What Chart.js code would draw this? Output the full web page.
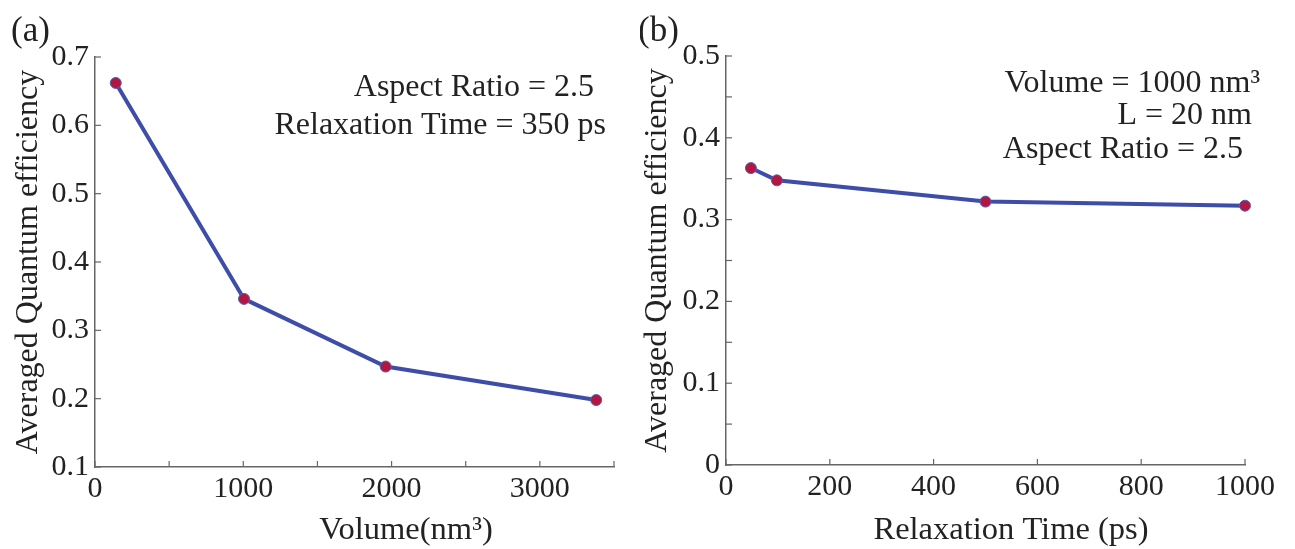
<!DOCTYPE html>
<html>
<head>
<meta charset="utf-8">
<script src="https://cdn.jsdelivr.net/npm/chart.js@4.4.0/dist/chart.umd.min.js"></script>
<style>
  html, body { margin: 0; padding: 0; background: #fff; }
  #wrap { position: relative; width: 1295px; height: 549px; }
  .panel { position: absolute; top: 0; height: 549px; }
  #panelA { left: 0; width: 640px; }
  #panelB { left: 640px; width: 655px; }
</style>
</head>
<body>
<div id="wrap">
  <div class="panel" id="panelA"><canvas id="chartA"></canvas></div>
  <div class="panel" id="panelB"><canvas id="chartB"></canvas></div>
</div>
<script>
// panel (a): efficiency vs volume
const volumeX = [140, 1005, 1960, 3380];
const volumeQE = [0.662, 0.346, 0.247, 0.198];
// panel (b): efficiency vs relaxation time
const relaxX = [48, 98, 500, 1000];
const relaxQE = [0.363, 0.348, 0.322, 0.317];

const yTitle = 'Averaged Quantum efficiency';
const xTitleA = 'Volume(nm³)';
const xTitleB = 'Relaxation Time (ps)';
const notesA = ['Aspect Ratio = 2.5', 'Relaxation Time = 350 ps'];
const notesB = ['Volume = 1000 nm³', 'L = 20 nm', 'Aspect Ratio = 2.5'];

const FONT = '"Liberation Serif", "Times New Roman", serif';
const TEXT = '#222';
const AXIS = '#666';
const LINE = '#3D4DA8';
const DOT = '#B3163E';

// tick marks point inwards, like the original figure
const innerTicks = {
    id: 'innerTicks',
    afterDraw(chart) {
        const ctx = chart.ctx;
        const area = chart.chartArea;
        ctx.save();
        ctx.strokeStyle = AXIS;
        ctx.lineWidth = 1.2;
        const sx = chart.scales.x, sy = chart.scales.y;
        sx.ticks.forEach(t => {
            const px = sx.getPixelForValue(t.value);
            ctx.beginPath();
            ctx.moveTo(px, area.bottom);
            ctx.lineTo(px, area.bottom - 6);
            ctx.stroke();
        });
        sy.ticks.forEach(t => {
            const py = sy.getPixelForValue(t.value);
            ctx.beginPath();
            ctx.moveTo(area.left, py);
            ctx.lineTo(area.left + 6, py);
            ctx.stroke();
        });
        ctx.restore();
    }
};

// free text: panel letter, notes, x-axis title
const textLayer = {
    id: 'textLayer',
    afterDraw(chart, args, opts) {
        const ctx = chart.ctx;
        ctx.save();
        ctx.fillStyle = TEXT;
        ctx.textBaseline = 'middle';
        ctx.font = '35px ' + FONT;
        ctx.textAlign = 'left';
        ctx.fillText(opts.letter, opts.letterX, 32);
        ctx.font = '32px ' + FONT;
        ctx.textAlign = 'right';
        opts.notes.forEach((n, i) => ctx.fillText(n, opts.noteX[i], opts.noteY[i]));
        ctx.font = '32.5px ' + FONT;
        ctx.textAlign = 'center';
        ctx.fillText(opts.xTitle, opts.xTitleX, 530);
        ctx.restore();
    }
};

function makeChart(id, xs, ys, cfg) {
    const ctx = document.getElementById(id).getContext('2d');
    return new Chart(ctx, {
        type: 'line',
        data: {
            datasets: [{
                data: xs.map((x, i) => ({ x, y: ys[i] })),
                borderColor: LINE,
                borderWidth: 4,
                pointRadius: 5.5,
                pointBackgroundColor: DOT,
                pointBorderColor: '#5560B5',
                pointBorderWidth: 1,
                tension: 0,
                clip: false,
            }]
        },
        options: {
            responsive: true,
            maintainAspectRatio: false,
            animation: false,
            layout: { padding: cfg.padding },
            plugins: {
                legend: { display: false },
                tooltip: { enabled: false },
                textLayer: cfg.text,
            },
            scales: {
                x: {
                    type: 'linear',
                    min: cfg.xMin, max: cfg.xMax,
                    afterFit: s => { s.height = cfg.xHeight; },
                    ticks: {
                        stepSize: cfg.xStep,
                        autoSkip: false,
                        maxRotation: 0,
                        padding: 4,
                        color: TEXT,
                        font: { family: FONT, size: 30 },
                        callback: cfg.xLabel,
                    },
                    grid: { drawOnChartArea: false, drawTicks: false },
                    border: { color: AXIS, width: 1.5 },
                },
                y: {
                    min: cfg.yMin, max: cfg.yMax,
                    afterFit: s => { s.width = cfg.yWidth; },
                    ticks: {
                        stepSize: cfg.yStep,
                        autoSkip: false,
                        padding: 6,
                        color: TEXT,
                        font: { family: FONT, size: 30 },
                        callback: cfg.yLabel,
                    },
                    grid: { drawOnChartArea: false, drawTicks: false },
                    border: { color: AXIS, width: 1.5 },
                    title: {
                        display: true,
                        text: yTitle,
                        color: TEXT,
                        font: { family: FONT, size: 32, lineHeight: 1.1 },
                        padding: { top: cfg.yTitlePad, bottom: 0 },
                    },
                },
            },
        },
        plugins: [innerTicks, textLayer],
    });
}

makeChart('chartA', volumeX, volumeQE, {
    padding: { top: 57, right: 26, bottom: 0, left: 0 },
    xMin: 0, xMax: 3500, xStep: 500, xHeight: 82,
    xLabel: v => (v % 1000 === 0 ? String(v) : ''),
    yMin: 0.1, yMax: 0.7, yStep: 0.1, yWidth: 95, yTitlePad: 11,
    yLabel: v => v.toFixed(1),
    text: {
        letter: '(a)', letterX: 11,
        notes: notesA, noteX: [594, 606], noteY: [88, 126],
        xTitle: xTitleA, xTitleX: 406,
    },
});

makeChart('chartB', relaxX, relaxQE, {
    padding: { top: 56, right: 50, bottom: 0, left: 0 },
    xMin: 0, xMax: 1000, xStep: 200, xHeight: 84,
    xLabel: v => String(v),
    yMin: 0, yMax: 0.5, yStep: 0.05, yWidth: 86, yTitlePad: 0,
    yLabel: v => {
        const k = Math.round(v * 100);
        if (k % 10 !== 0) return '';
        return k === 0 ? '0' : (k / 100).toFixed(1);
    },
    text: {
        letter: '(b)', letterX: -2,
        notes: notesB, noteX: [620, 612, 603], noteY: [84, 116, 150],
        xTitle: xTitleB, xTitleX: 371,
    },
});
</script>
</body>
</html>
